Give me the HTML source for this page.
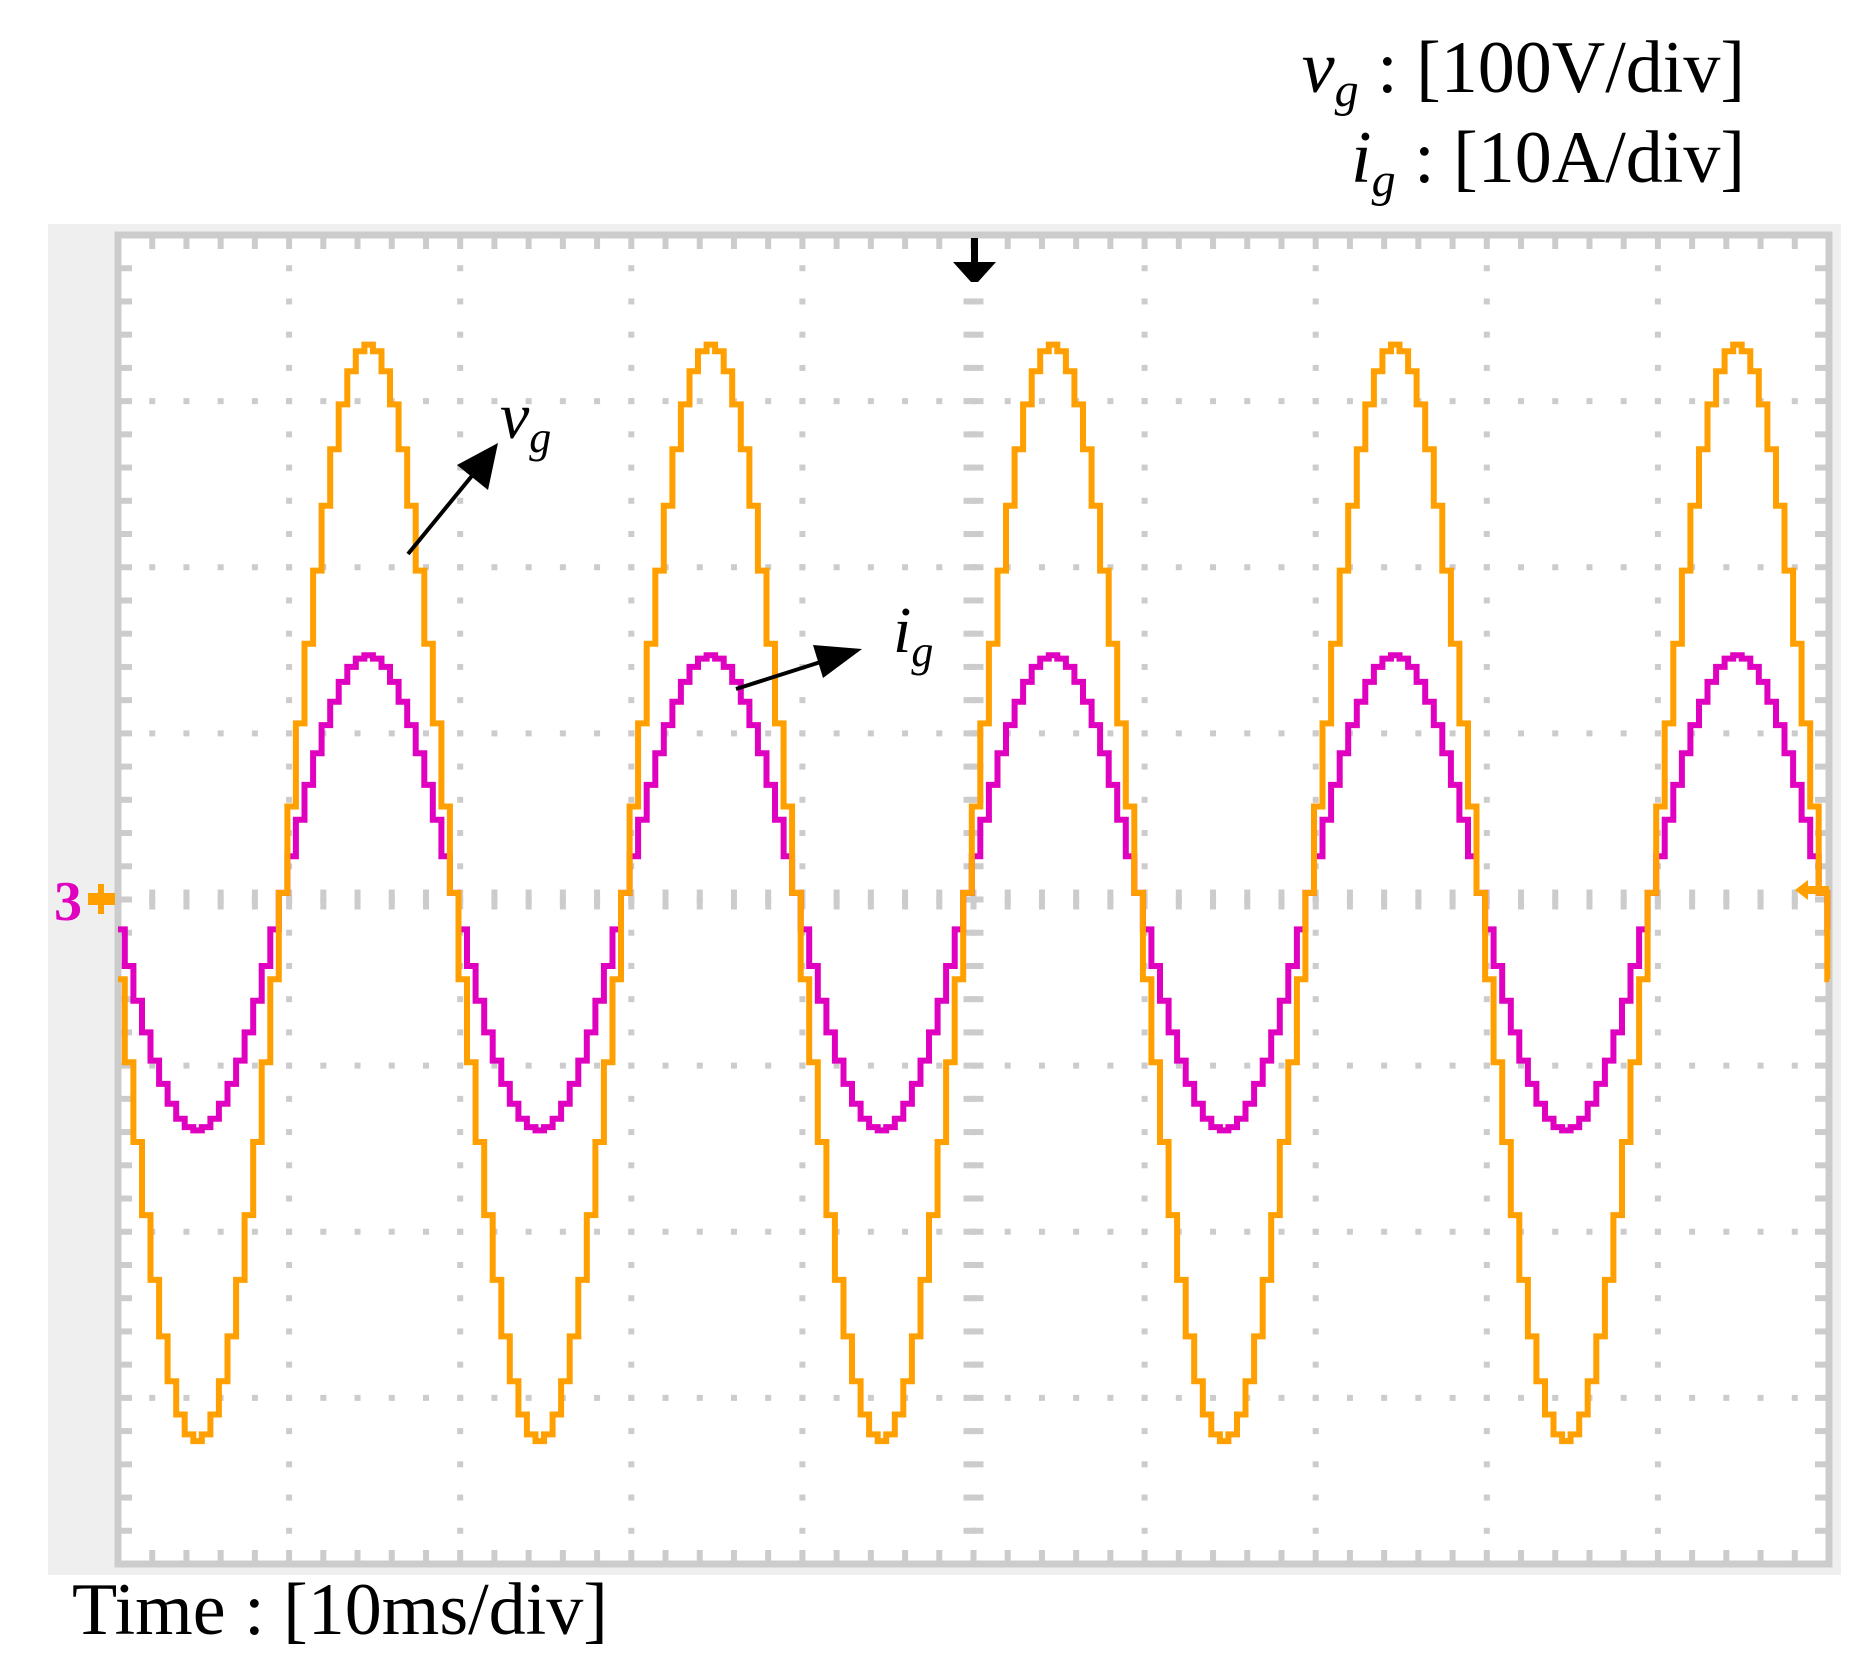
<!DOCTYPE html>
<html><head><meta charset="utf-8"><style>
html,body{margin:0;padding:0;background:#fff;}
svg{display:block;}
text{font-family:"Liberation Serif",serif;}
</style></head><body>
<svg id="scope" width="1868" height="1680" viewBox="0 0 1868 1680" xmlns="http://www.w3.org/2000/svg">
<rect x="48" y="224" width="1793" height="1351" fill="#efefef"/>
<rect x="118" y="235" width="1711" height="1329" fill="#fff" stroke="#cccccc" stroke-width="7"/>
<g id="grid"></g>
<g id="traces"></g>
<g fill="#000">
<rect x="971" y="238" width="7" height="44"/><polygon points="953,262 996,262 978,282 971,282"/>
</g>
<g>
<text x="54" y="920" font-size="56" font-family="Liberation Sans,sans-serif" font-weight="bold" fill="#e000c0">3</text>
<polygon points="88,893 98,893 98,884 104,884 104,893 115,893 115,905 104,905 104,914 98,914 98,905 88,905" fill="#ffa000"/>
</g>
<polygon points="1795,890 1808,880 1808,886 1829,886 1829,894 1808,894 1808,900" fill="#ffa000"/>
<text x="1745" y="92" font-size="74" text-anchor="end"><tspan font-style="italic">v</tspan><tspan font-style="italic" font-size="48" dy="14">g</tspan><tspan dy="-14"> : [100V/div]</tspan></text>
<text x="1745" y="182" font-size="74" text-anchor="end"><tspan font-style="italic">i</tspan><tspan font-style="italic" font-size="48" dy="14">g</tspan><tspan dy="-14"> : [10A/div]</tspan></text>
<text x="72" y="1634" font-size="74">Time : [10ms/div]</text>
<g>
<line x1="408" y1="554" x2="480" y2="466" stroke="#000" stroke-width="4"/>
<polygon points="498,443 488,490 457,465" fill="#000"/>
<text x="500" y="438" font-size="66" font-style="italic">v<tspan font-size="44" dy="14">g</tspan></text>
</g>
<g>
<line x1="736" y1="689" x2="830" y2="659" stroke="#000" stroke-width="4"/>
<polygon points="862,649 823,678 813,645" fill="#000"/>
<text x="893" y="652" font-size="66" font-style="italic">i<tspan font-size="44" dy="14">g</tspan></text>
</g>
</svg>
<script>
// one 20 ms period, 40 samples (0.5 ms), starting at rising zero crossing
const vgPeriod = [4,56,106,154,198,237,271,298,318,330,334,330,318,298,271,237,198,154,106,56,4,-48,-98,-146,-190,-229,-263,-290,-310,-322,-326,-322,-310,-290,-263,-229,-190,-146,-98,-48];
const igPeriod = [0.4,2.6,4.8,6.9,8.8,10.5,11.9,13.1,14.0,14.5,14.7,14.5,14.0,13.1,11.9,10.5,8.8,6.9,4.8,2.6,0.4,-1.8,-4.0,-6.1,-8.0,-9.7,-11.1,-12.3,-13.2,-13.7,-13.9,-13.7,-13.2,-12.3,-11.1,-9.7,-8.0,-6.1,-4.0,-1.8];
const sampleMs = [0.5];
const firstZeroMs = [9.4];
const vScale = [100]; // V/div
const iScale = [10];  // A/div
const tScale = [10];  // ms/div

const X0=118, X1=1829, Y0=235, Y1=1564;
const divW=(X1-X0)/10, divH=(Y1-Y0)/8, yC=Y0+4*divH;
const xOf = t => X0 + t/tScale[0]*divW;
const yV = v => yC - v/vScale[0]*divH;
const yI = a => yC - a/iScale[0]*divH;
const NS="http://www.w3.org/2000/svg";
const grid=document.getElementById('grid');
function rect(x,y,w,h,name){
  const r=document.createElementNS(NS,'rect');
  r.setAttribute('x',x);r.setAttribute('y',y);r.setAttribute('width',w);r.setAttribute('height',h);
  r.setAttribute('fill','#cccccc');
  
  
  grid.appendChild(r);
}
for(let k=1;k<10;k++){
  const x=X0+k*divW;
  for(let y=Y0+divH/5;y<Y1-5;y+=divH/5) rect(x-3,y-3,6,6,'grid-dot');
}
for(let k=1;k<8;k++){
  const y=Y0+k*divH;
  for(let x=X0+divW/5;x<X1-5;x+=divW/5) rect(x-3,y-3,6,6,'grid-dot');
}
for(let x=X0+divW/5;x<X1-5;x+=divW/5){ rect(x-3,yC-10,6,20,'center-tick'); }
for(let y=Y0+divH/5;y<Y1-5;y+=divH/5){ rect(X0+5*divW-10,y-3,20,6,'center-tick'); }
for(let x=X0+divW/5;x<X1-5;x+=divW/5){ rect(x-3,Y0,6,14,'border-tick'); rect(x-3,Y1-14,6,14,'border-tick'); }
for(let y=Y0+divH/5;y<Y1-5;y+=divH/5){ rect(X0,y-3,14,6,'border-tick'); rect(X1-14,y-3,14,6,'border-tick'); }

function stepPath(arr, yf){
  const n=arr.length, dt=sampleMs[0];
  let d='';
  let kStart=Math.floor(-firstZeroMs[0]/dt)-1;
  const tEnd=100;
  let first=true;
  for(let k=kStart; ; k++){
    let t0=firstZeroMs[0]+k*dt, t1=t0+dt;
    if(t0>tEnd) break;
    const val=arr[((k%n)+n)%n];
    const a=Math.max(t0,0), b=Math.min(t1,tEnd);
    if(b<=a) continue;
    const y=yf(val).toFixed(1);
    if(first){d+='M'+xOf(a).toFixed(1)+' '+y; first=false;}
    else d+=' V'+y;
    d+=' H'+xOf(b).toFixed(1);
  }
  return d;
}
const traces=document.getElementById('traces');
const pi=document.createElementNS(NS,'path');
pi.setAttribute('d',stepPath(igPeriod,yI));
pi.setAttribute('fill','none');pi.setAttribute('stroke','#e000c0');pi.setAttribute('stroke-width','6');


traces.appendChild(pi);
const pv=document.createElementNS(NS,'path');
pv.setAttribute('d',stepPath(vgPeriod,yV));
pv.setAttribute('fill','none');pv.setAttribute('stroke','#ffa000');pv.setAttribute('stroke-width','6');


traces.appendChild(pv);
</script>
</body></html>
